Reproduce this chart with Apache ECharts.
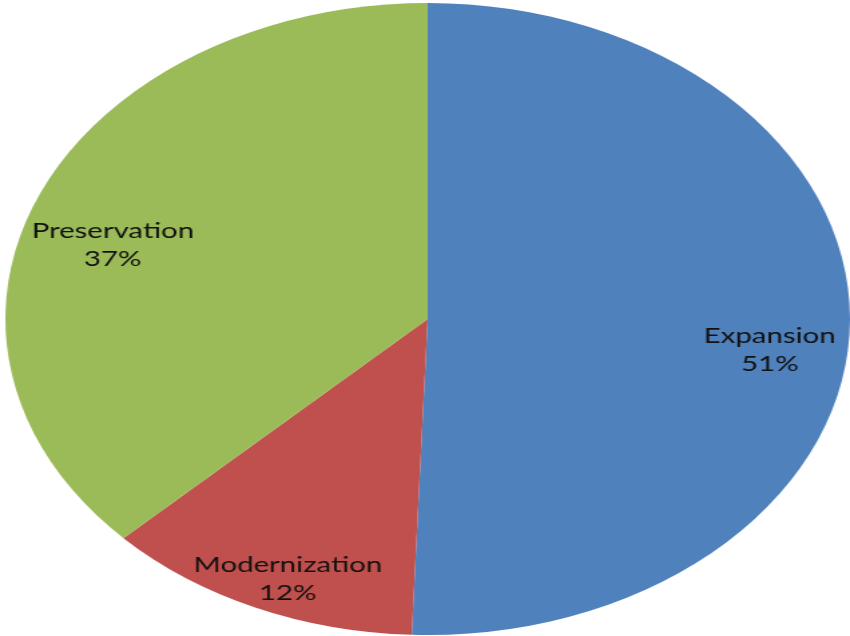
<!DOCTYPE html>
<html>
<head>
<meta charset="utf-8">
<script src="https://cdn.jsdelivr.net/npm/echarts@6/dist/echarts.min.js"></script>
<style>
  html, body { margin: 0; padding: 0; background: #ffffff; overflow: hidden; }
  #chart { width: 636px; height: 636px; transform: scaleX(1.33648); transform-origin: 0 0; }
</style>
</head>
<body>
<div id="chart"></div>
<script>
const categories = ['Expansion', 'Modernization', 'Preservation'];
const values = [50.6, 12.2, 37.2];
const colors = ['#4F81BD', '#C0504D', '#9BBB59'];

const pieData = categories.map((name, i) => ({ name: name, value: values[i] }));

const chart = echarts.init(document.getElementById('chart'), null, { renderer: 'canvas' });
chart.setOption({
  animation: false,
  color: colors,
  series: [
    {
      type: 'pie',
      center: [320, 319],
      radius: [0, 316],
      startAngle: 90,
      clockwise: true,
      silent: true,
      label: { show: false },
      labelLine: { show: false },
      itemStyle: { borderWidth: 0 },
      data: pieData
    },
    {
      type: 'pie',
      center: [320, 319],
      radius: [190, 316],
      startAngle: 90,
      clockwise: true,
      silent: true,
      itemStyle: { color: 'rgba(0,0,0,0)', borderWidth: 0 },
      labelLine: { show: false },
      label: {
        show: true,
        position: 'inside',
        color: '#111',
        fontFamily: 'Lato',
        fontSize: 22,
        lineHeight: 28,
        offset: [0, 26],
        formatter: p => p.name + '\n' + Math.round(p.percent) + '%'
      },
      data: pieData
    }
  ]
});
</script>
</body>
</html>
